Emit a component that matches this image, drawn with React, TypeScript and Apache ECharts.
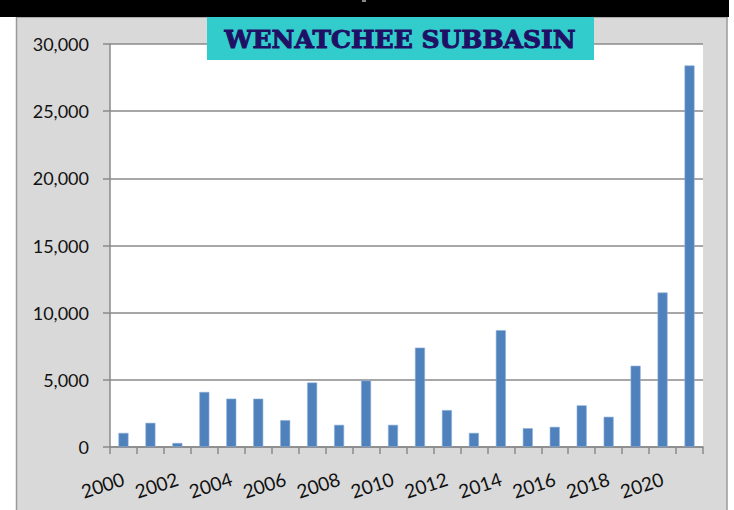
import React, { useEffect, useRef } from "react";
import * as echarts from "echarts";

const years = [
  "2000", "2001", "2002", "2003", "2004", "2005", "2006", "2007", "2008", "2009", "2010",
  "2011", "2012", "2013", "2014", "2015", "2016", "2017", "2018", "2019", "2020", "2021",
];
const counts = [
  1050, 1800, 300, 4100, 3600, 3600, 2000, 4800, 1650, 4950, 1650,
  7400, 2750, 1050, 8700, 1400, 1500, 3100, 2250, 6050, 11500, 28400,
];
const titleText = "WENATCHEE SUBBASIN";
const yMax = 30000;
const yStep = 5000;

export default function App() {
  const ref = useRef<HTMLDivElement>(null);
  useEffect(() => {
    document.body.style.margin = "0";
    const chart = echarts.init(ref.current!, null, { renderer: "svg" });
    const axisGray = "#8a8a8a";
    chart.setOption({
      animation: false,
      backgroundColor: "#ffffff",
      grid: {
        left: 110,
        right: 31,
        top: 44,
        bottom: 63,
        show: true,
        backgroundColor: "#ffffff",
        borderWidth: 0,
      },
      xAxis: {
        type: "category",
        data: years,
        boundaryGap: true,
        axisLine: { show: true, lineStyle: { color: axisGray, width: 1.5 } },
        axisTick: { show: true, interval: 0, length: 7, lineStyle: { color: axisGray, width: 1.5 } },
        axisLabel: {
          interval: 1,
          rotate: 18,
          margin: 31,
          fontFamily: "Lato",
          fontSize: 19,
          color: "#111",
        },
        splitLine: { show: false },
      },
      yAxis: {
        type: "value",
        min: 0,
        max: yMax,
        interval: yStep,
        axisLine: { show: true, lineStyle: { color: axisGray, width: 1.5 } },
        axisTick: { show: true, length: 7, lineStyle: { color: axisGray, width: 1.5 } },
        axisLabel: {
          margin: 21,
          fontFamily: "Lato",
          fontSize: 18,
          color: "#111",
          formatter: (v: number) => v.toLocaleString("en-US"),
        },
        splitLine: { show: true, lineStyle: { color: axisGray, width: 1.5 } },
      },
      series: [
        {
          type: "bar",
          data: counts,
          barWidth: 10,
          itemStyle: { color: "#4F81BD", borderColor: "#8FB0D8", borderWidth: 0.6 },
        },
      ],
      graphic: [
        {
          type: "rect",
          z: -100,
          silent: true,
          shape: { x: 16.5, y: 17, width: 710.5, height: 500 },
          style: { fill: "#D9D9D9", stroke: "#9a9a9a", lineWidth: 1.5 },
        },
        {
          type: "rect",
          z: 100,
          silent: true,
          shape: { x: 0, y: 0, width: 729, height: 17 },
          style: { fill: "#000000" },
        },
        {
          type: "rect",
          z: 101,
          silent: true,
          shape: { x: 362, y: 0, width: 4, height: 2 },
          style: { fill: "#888888" },
        },
        {
          type: "rect",
          z: 100,
          silent: true,
          shape: { x: 207, y: 17, width: 387, height: 43 },
          style: { fill: "#33CCCC" },
        },
        {
          type: "text",
          z: 101,
          silent: true,
          x: 400,
          y: 39,
          style: {
            text: titleText,
            fill: "#1F1066",
            stroke: "#1F1066",
            lineWidth: 1,
            font: "bold 25px 'DejaVu Serif'",
            textAlign: "center",
            textVerticalAlign: "middle",
          },
        },
      ],
    });
    return () => chart.dispose();
  }, []);
  return (
    <div
      ref={ref}
      style={{ position: "absolute", left: 0, top: 0, width: 734, height: 510 }}
    />
  );
}
